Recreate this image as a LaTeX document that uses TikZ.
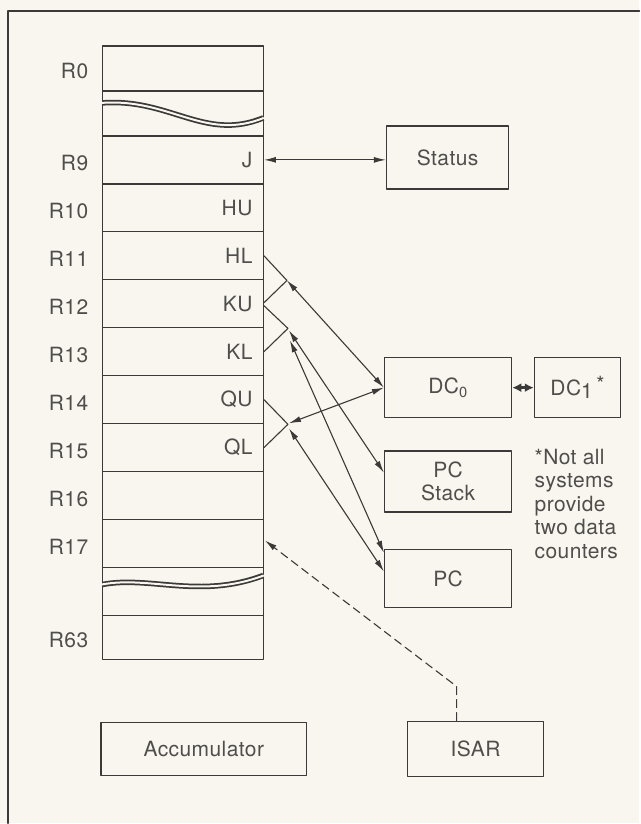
\documentclass[tikz,border=0pt]{standalone}
\usepackage{fontspec}
\setmainfont{TeX Gyre Heros}[LetterSpace=2]
\usetikzlibrary{arrows.meta,positioning,calc}
\definecolor{ink}{HTML}{3C3A38}
\definecolor{paper}{HTML}{F8F6EE}

\begin{document}
\begin{tikzpicture}[x=1pt,y=-1pt,line cap=round,line join=round,
  font=\fontsize{21}{23.5}\selectfont,every node/.style={text=ink!90},
  cell/.style={draw=ink,line width=1.4pt,minimum width=161pt,inner sep=0pt},
  blk/.style={draw=ink,line width=1.5pt,inner sep=0pt,align=center},
  link/.style={draw=ink,line width=1.1pt,{Latex[length=12pt,width=6pt]}-{Latex[length=12pt,width=6pt]}}]
  \fill[paper] (0,0) rectangle (640,824);
  \draw[ink,line width=1.5pt] (8,824) -- (8,11) -- (640,11);

  % register file
  \node[cell,minimum height=45pt] (r0) at (183,68.5) {};
  \node[cell,minimum height=45pt] (w1) at (183,113.5) {};
  \foreach \n [count=\i from 0] in {9,...,17}
    \node[cell,minimum height=48pt] (r\n) at (183,{160+48*\i}) {};
  \node[cell,minimum height=48pt] (w2) at (183,592) {};
  \node[cell,minimum height=44pt] (r63) at (183,638) {};
  \foreach \n/\t in {9/J,10/HU,11/HL,12/KU,13/KL,14/QU,15/QL}
    \node[anchor=east] at ($(r\n.east)+(-8,0)$) {\t};
  \foreach \n in {0,9,10,11,12,13,14,15,16,17,63}
    \node[anchor=east,yshift=-3pt] at ($(r\n.west)+(-10,0)$) {R\n};

  % breaks
  \draw[ink,line width=5.5pt,line cap=butt] (102.5,103) .. controls (170,98) and (205,142) .. (263.5,118);
  \draw[paper,line width=2pt,line cap=butt] (102,103) .. controls (170,98) and (205,142) .. (264,118);
  \draw[ink,line width=5.5pt,line cap=butt] (102.5,585) .. controls (150,576) and (200,600) .. (263.5,576);
  \draw[paper,line width=2pt,line cap=butt] (102,585) .. controls (150,576) and (200,600) .. (264,576);

  % other registers
  \node[blk,minimum width=122pt,minimum height=63pt] (status) at (448,157.5) {Status};
  \node[blk,minimum width=127pt,minimum height=60pt] (dc0) at (448.5,388) {DC\textsubscript{0}};
  \node[blk,minimum width=86pt,minimum height=60pt] (dc1) at (578,388) {DC\raisebox{-3pt}{1}\,\raisebox{4pt}{*}};
  \node[blk,minimum width=127pt,minimum height=61pt] (pcs) at (448.5,482) {PC\\Stack};
  \node[blk,minimum width=127pt,minimum height=58pt] (pc) at (448.5,579) {PC};
  \node[blk,minimum width=206pt,minimum height=53pt] (acc) at (204,749.5) {Accumulator};
  \node[blk,minimum width=136pt,minimum height=55pt] (isar) at (476,749.5) {ISAR};
  \node[anchor=north west,inner sep=0pt,align=left] (fn) at (535,449) {*Not all\\systems\\provide\\two data\\counters};

  % register pairs
  \coordinate (a1) at ($(r11.south east)+(23,0)$);
  \coordinate (a2) at ($(r12.south east)+(24,0)$);
  \coordinate (a3) at ($(r14.south east)+(24,0)$);
  \draw[ink,line width=1.1pt] (r11.east) -- (a1) -- ($(r12.east)+(0,-1)$);
  \draw[ink,line width=1.1pt] ($(r12.east)+(0,2)$) -- (a2) -- (r13.east);
  \draw[ink,line width=1.1pt] (r14.east) -- (a3) -- (r15.east);

  % connections
  \draw[link] (r9.east) -- (r9.east -| status.west);
  \draw[link] (a1) -- (dc0.west);
  \draw[link] ($(a3)+(1,-1)$) -- (dc0.west);
  \draw[link] ($(a2)+(1,2)$) -- ($(pcs.west)+(0,-9)$);
  \draw[link] ($(a2)+(2,12)$) -- ($(pc.north west)+(0,4)$);
  \draw[link] ($(a3)+(1,4)$) -- ($(pc.west)+(0,-7)$);
  \draw[ink,line width=3.2pt,{Latex[length=9pt,width=9pt]}-{Latex[length=9pt,width=9pt]}] (dc0) -- (dc1);
  \coordinate (bend) at (457,687);
  \draw[ink,line width=1.1pt,dash pattern=on 8pt off 5pt,-{Latex[length=12pt,width=6pt]}] (isar.north -| bend) -- (bend) -- ($(r17.east)+(1,-3)$);
\end{tikzpicture}
\end{document}
